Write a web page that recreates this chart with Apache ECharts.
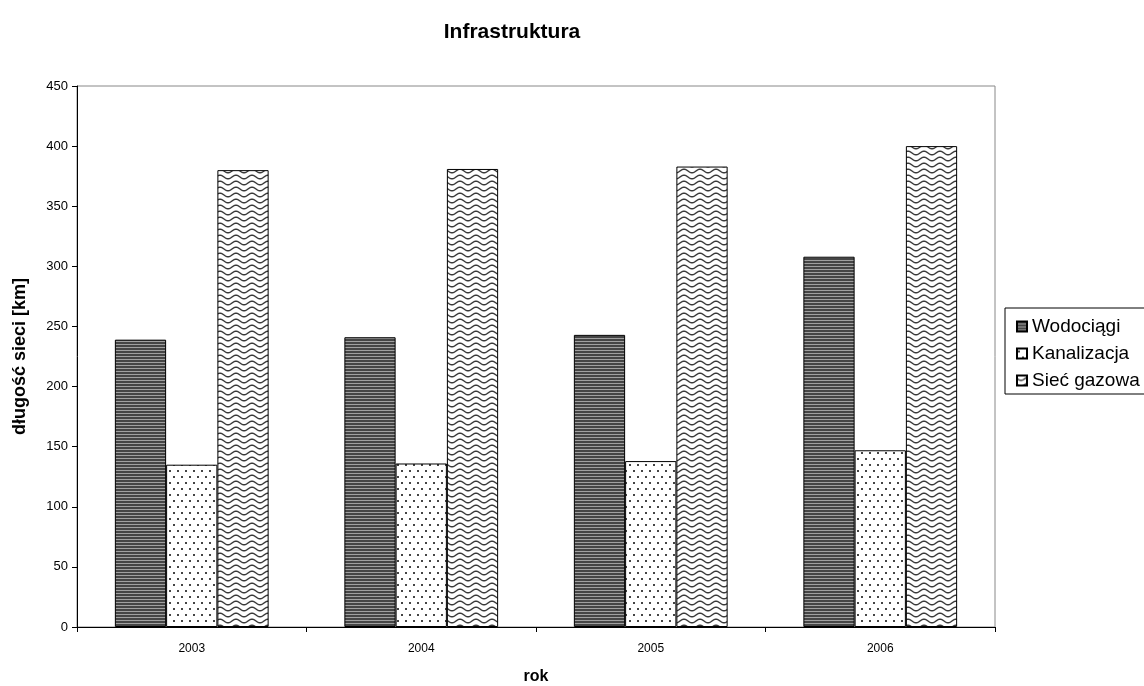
<!DOCTYPE html>
<html>
<head>
<meta charset="utf-8">
<script src="https://cdn.jsdelivr.net/npm/echarts@6/dist/echarts.min.js"></script>
<style>html,body{margin:0;padding:0;background:#fff}#c{width:1144px;height:686px}</style>
</head>
<body>
<div id="c"></div>
<script>
const categories = ['2003', '2004', '2005', '2006'];
const wodociagi = [239, 241, 243, 308];
const kanalizacja = [135, 136, 138, 147];
const siecGazowa = [380, 381, 383, 400];
const seriesNames = ['Wodociągi', 'Kanalizacja', 'Sieć gazowa'];

function makeCanvas(w, h, draw) {
  const c = document.createElement('canvas');
  c.width = w; c.height = h;
  const ctx = c.getContext('2d');
  draw(ctx, w, h);
  return c;
}
const stripes = makeCanvas(4, 3, (ctx, w, h) => {
  ctx.fillStyle = '#a0a0a0'; ctx.fillRect(0, 0, w, h);
  ctx.fillStyle = '#454545'; ctx.fillRect(0, 0, w, 2);
});
const dots = makeCanvas(8, 12, (ctx, w, h) => {
  ctx.fillStyle = '#fff'; ctx.fillRect(0, 0, w, h);
  ctx.fillStyle = '#444';
  ctx.fillRect(1, 2, 2, 2);
  ctx.fillRect(5, 8, 2, 2);
});
const waves = makeCanvas(16, 6, (ctx, w, h) => {
  ctx.fillStyle = '#fff'; ctx.fillRect(0, 0, w, h);
  ctx.strokeStyle = '#3a3a3a'; ctx.lineWidth = 1.4;
  ctx.beginPath();
  for (let i = -2; i <= 36; i++) {
    const x = i / 2;
    const y = 3 + 1.8 * Math.sin(2 * Math.PI * x / 16);
    if (i === -2) ctx.moveTo(x, y); else ctx.lineTo(x, y);
  }
  ctx.stroke();
});

const font = 'Liberation Sans';
const chart = echarts.init(document.getElementById('c'));
chart.setOption({
  animation: false,
  backgroundColor: '#fff',
  title: {
    text: 'Infrastruktura',
    left: 507, top: 17, textAlign: 'center',
    textStyle: { fontFamily: font, fontSize: 21, fontWeight: 'bold', color: '#000' }
  },
  legend: {
    orient: 'vertical',
    left: 1005, top: 308,
    itemWidth: 10, itemHeight: 10, itemGap: 6,
    padding: [8, 40, 3, 11],
    borderColor: '#000', borderWidth: 1,
    icon: 'rect',
    textStyle: { fontFamily: font, fontSize: 19, lineHeight: 21, color: '#000', padding: [0, 0, 0, 0] },
    data: seriesNames
  },
  grid: { left: 77, right: 149, top: 86, bottom: 59, containLabel: false, outerBoundsMode: 'none',
    show: true, borderColor: '#888', borderWidth: 1 },
  xAxis: {
    type: 'category',
    data: categories,
    name: 'rok',
    nameLocation: 'middle',
    nameGap: 42,
    nameTextStyle: { fontFamily: font, fontSize: 16, fontWeight: 'bold', color: '#000' },
    axisLine: { lineStyle: { color: '#000' } },
    axisTick: { show: true, length: 5, lineStyle: { color: '#000' } },
    axisLabel: { fontFamily: font, fontSize: 12, color: '#000', margin: 16 }
  },
  yAxis: {
    type: 'value',
    min: 0, max: 450, interval: 50,
    name: 'długość sieci [km]',
    nameLocation: 'middle',
    nameGap: 48,
    nameTextStyle: { fontFamily: font, fontSize: 18, fontWeight: 'bold', color: '#000' },
    axisLine: { show: true, lineStyle: { color: '#000' } },
    axisTick: { show: true, length: 5, lineStyle: { color: '#000' } },
    splitLine: { show: false },
    axisLabel: { fontFamily: font, fontSize: 13, color: '#000', margin: 9 }
  },
  series: [
    { name: seriesNames[0], type: 'bar', data: wodociagi, barGap: '0%', barCategoryGap: '33%',
      itemStyle: { color: { image: stripes, repeat: 'repeat' }, borderColor: '#000', borderWidth: 1 } },
    { name: seriesNames[1], type: 'bar', data: kanalizacja, barGap: '0%', barCategoryGap: '33%',
      itemStyle: { color: { image: dots, repeat: 'repeat' }, borderColor: '#000', borderWidth: 1 } },
    { name: seriesNames[2], type: 'bar', data: siecGazowa, barGap: '0%', barCategoryGap: '33%',
      itemStyle: { color: { image: waves, repeat: 'repeat' }, borderColor: '#000', borderWidth: 1 } }
  ]
});
</script>
</body>
</html>
